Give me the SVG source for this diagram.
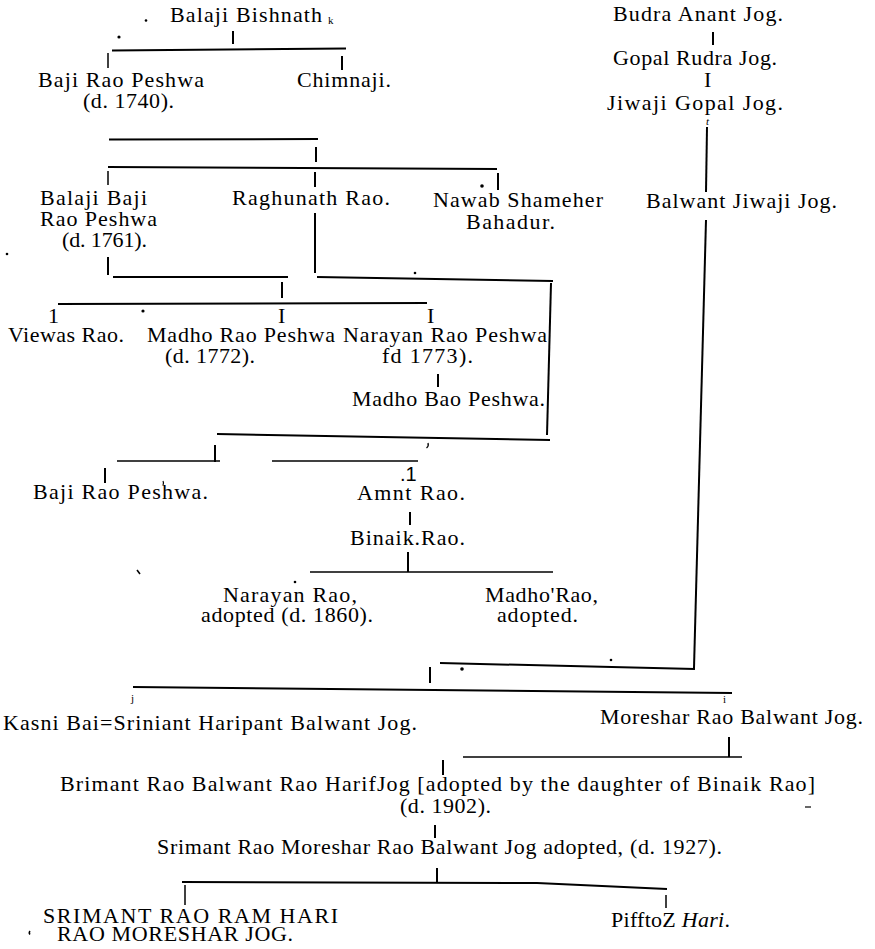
<svg xmlns="http://www.w3.org/2000/svg" width="875" height="949" viewBox="0 0 875 949">
<style>
text{font-family:"Liberation Serif","Times New Roman",serif;font-size:22px;fill:#000}
.sm{font-size:11px}
.c line,.c path{stroke:#000;stroke-width:2;fill:none;stroke-linecap:butt}
.c .t{stroke-width:1.5}
.d{fill:#000}
</style>
<rect width="875" height="949" fill="#fff"/>
<g class="c" id="connectors">
<line x1="233" y1="31" x2="233" y2="44"/>
<line x1="112" y1="50.5" x2="346" y2="48.5"/>
<line class="t" x1="108" y1="53" x2="108" y2="68"/>
<line x1="342" y1="56" x2="342" y2="70"/>
<line x1="109" y1="139.5" x2="318" y2="139"/>
<line x1="316" y1="147" x2="316" y2="162"/>
<line x1="108" y1="167" x2="497" y2="169"/>
<line class="t" x1="108" y1="171" x2="108" y2="185"/>
<line x1="315" y1="172" x2="315" y2="187"/>
<line x1="498" y1="173" x2="498" y2="190"/>
<line x1="315" y1="213" x2="315" y2="273"/>
<line x1="317" y1="277" x2="553" y2="281"/>
<line x1="551" y1="283" x2="547" y2="435"/>
<line x1="217" y1="434" x2="550" y2="440"/>
<line x1="108" y1="257" x2="108" y2="275"/>
<line x1="113" y1="277" x2="288" y2="277"/>
<line x1="282" y1="282" x2="282" y2="298"/>
<line x1="58" y1="304" x2="427" y2="303"/>
<line x1="438" y1="374" x2="438" y2="387"/>
<line class="t" x1="117" y1="461" x2="220" y2="461"/>
<line x1="215" y1="445" x2="215" y2="462"/>
<line class="t" x1="272" y1="461" x2="418" y2="461"/>
<line x1="105" y1="468" x2="105" y2="483"/>
<line x1="410" y1="512" x2="410" y2="525"/>
<line x1="408" y1="552" x2="408" y2="572"/>
<line class="t" x1="310" y1="572" x2="553" y2="572"/>
<line x1="713" y1="32" x2="713" y2="45"/>
<line x1="707" y1="127" x2="706" y2="192"/>
<line x1="706" y1="220" x2="694" y2="668"/>
<line x1="440" y1="663" x2="695" y2="669"/>
<line x1="430" y1="667" x2="430" y2="683"/>
<line x1="133" y1="687" x2="732" y2="693"/>
<line x1="729" y1="737" x2="729" y2="757"/>
<line class="t" x1="463" y1="757" x2="742" y2="757"/>
<line x1="443" y1="760" x2="443" y2="775"/>
<line x1="435" y1="825" x2="435" y2="838"/>
<line x1="437" y1="868" x2="437" y2="882"/>
<path d="M182,882 L537,883 L667,889"/>
<line class="t" x1="185" y1="885" x2="185" y2="905"/>
<line class="t" x1="666" y1="895" x2="666" y2="908"/>
</g>
<g id="marks">
<circle class="d" cx="146" cy="20.5" r="1.3"/>
<circle class="d" cx="119" cy="37" r="1.6"/>
<circle class="d" cx="7" cy="254" r="1.3"/>
<circle class="d" cx="482" cy="186" r="1.8"/>
<circle class="d" cx="415" cy="273" r="1.3"/>
<circle class="d" cx="143" cy="311" r="1.6"/>
<line x1="137" y1="570" x2="140" y2="574" stroke="#000" stroke-width="1.5"/>
<circle class="d" cx="295" cy="582" r="1.3"/>
<circle class="d" cx="462" cy="669" r="1.8"/>
<circle class="d" cx="611" cy="660" r="1.3"/>
<path d="M428,443 q1,3 -1.5,5" stroke="#000" stroke-width="1.3" fill="none"/>
<path d="M163,481 q1,2 0,4" stroke="#000" stroke-width="1.2" fill="none"/>
<line x1="805" y1="807" x2="811" y2="807" stroke="#000" stroke-width="1.2"/>
<path d="M30,931 q-1.5,2 0,3.5" stroke="#000" stroke-width="1.5" fill="none"/>
</g>
<g id="n_balaji_bishnath"><text><tspan x="170" y="22" textLength="152" lengthAdjust="spacing">Balaji Bishnath</tspan><tspan x="328" y="24" class="sm">k</tspan></text></g>
<g id="n_baji_rao_1740"><text><tspan x="38" y="87" textLength="166" lengthAdjust="spacing">Baji Rao Peshwa</tspan><tspan x="83" y="108" textLength="91" lengthAdjust="spacing">(d. 1740).</tspan></text></g>
<g id="n_chimnaji"><text x="297" y="87" textLength="94" lengthAdjust="spacing">Chimnaji.</text></g>
<g id="n_balaji_baji"><text><tspan x="40" y="205" textLength="107" lengthAdjust="spacing">Balaji  Baji</tspan><tspan x="40" y="226" textLength="117" lengthAdjust="spacing">Rao Peshwa</tspan><tspan x="62" y="247" textLength="85" lengthAdjust="spacing">(d. 1761).</tspan></text></g>
<g id="n_raghunath"><text x="232" y="205" textLength="158" lengthAdjust="spacing">Raghunath Rao.</text></g>
<g id="n_nawab"><text><tspan x="433" y="207" textLength="170" lengthAdjust="spacing">Nawab Shameher</tspan><tspan x="466" y="229" textLength="89" lengthAdjust="spacing">Bahadur.</tspan></text></g>
<g id="n_budra"><text x="613" y="21" textLength="170" lengthAdjust="spacing">Budra Anant Jog.</text></g>
<g id="n_gopal"><text><tspan x="613" y="65" textLength="164" lengthAdjust="spacing">Gopal Rudra Jog.</tspan><tspan x="704" y="87">I</tspan></text></g>
<g id="n_jiwaji"><text><tspan x="607" y="110" textLength="176" lengthAdjust="spacing">Jiwaji  Gopal Jog.</tspan><tspan x="706" y="125" class="sm" font-style="italic">t</tspan></text></g>
<g id="n_balwant"><text x="646" y="208" textLength="191" lengthAdjust="spacing">Balwant Jiwaji Jog.</text></g>
<g id="n_viewas"><text><tspan x="48" y="323">1</tspan><tspan x="8" y="342" textLength="116" lengthAdjust="spacing">Viewas Rao.</tspan></text></g>
<g id="n_madho_1772"><text><tspan x="278" y="323">I</tspan><tspan x="147" y="342" textLength="188" lengthAdjust="spacing">Madho Rao Peshwa</tspan><tspan x="165" y="363" textLength="90" lengthAdjust="spacing">(d. 1772).</tspan></text></g>
<g id="n_narayan_1773"><text><tspan x="427" y="323">I</tspan><tspan x="343" y="342" textLength="204" lengthAdjust="spacing">Narayan Rao Peshwa</tspan><tspan x="382" y="363" textLength="91" lengthAdjust="spacing">fd  1773).</tspan></text></g>
<g id="n_madho_bao"><text x="352" y="406" textLength="193" lengthAdjust="spacing">Madho Bao Peshwa.</text></g>
<g id="n_baji_rao_2"><text x="33" y="499" textLength="175" lengthAdjust="spacing">Baji Rao Peshwa.</text></g>
<g id="n_amnt"><text><tspan x="400" y="481" font-family="Liberation Sans, sans-serif" font-size="20">.1</tspan><tspan x="357" y="500" textLength="108" lengthAdjust="spacing">Amnt  Rao.</tspan></text></g>
<g id="n_binaik"><text x="350" y="545" textLength="115" lengthAdjust="spacing">Binaik.Rao.</text></g>
<g id="n_narayan_1860"><text><tspan x="223" y="602" textLength="134" lengthAdjust="spacing">Narayan Rao,</tspan><tspan x="201" y="622" textLength="172" lengthAdjust="spacing">adopted (d. 1860).</tspan></text></g>
<g id="n_madho_adopted"><text><tspan x="485" y="602" textLength="113" lengthAdjust="spacing">Madho'Rao,</tspan><tspan x="497" y="622" textLength="81" lengthAdjust="spacing">adopted.</tspan></text></g>
<g id="n_kasni"><text><tspan x="131" y="702" class="sm">j</tspan><tspan x="3" y="730" textLength="414" lengthAdjust="spacing">Kasni Bai=Sriniant Haripant Balwant Jog.</tspan></text></g>
<g id="n_moreshar"><text><tspan x="723" y="703" class="sm">i</tspan><tspan x="600" y="724" textLength="263" lengthAdjust="spacing">Moreshar  Rao Balwant Jog.</tspan></text></g>
<g id="n_brimant"><text><tspan x="60" y="791" textLength="755" lengthAdjust="spacing">Brimant Rao Balwant Rao HarifJog [adopted  by the daughter of  Binaik Rao]</tspan><tspan x="400" y="813" textLength="91" lengthAdjust="spacing">(d. 1902).</tspan></text></g>
<g id="n_srimant"><text x="157" y="854" textLength="565" lengthAdjust="spacing">Srimant Rao Moreshar Rao Balwant Jog  adopted, (d. 1927).</text></g>
<g id="n_ram_hari"><text><tspan x="43" y="923" textLength="295" lengthAdjust="spacing">SRIMANT  RAO RAM HARI</tspan><tspan x="57" y="941" textLength="236" lengthAdjust="spacing">RAO MORESHAR  JOG.</tspan></text></g>
<g id="n_pifftoz"><text x="611" y="927" textLength="119" lengthAdjust="spacing">PifftoZ <tspan font-style="italic">Hari</tspan>.</text></g>
</svg>
